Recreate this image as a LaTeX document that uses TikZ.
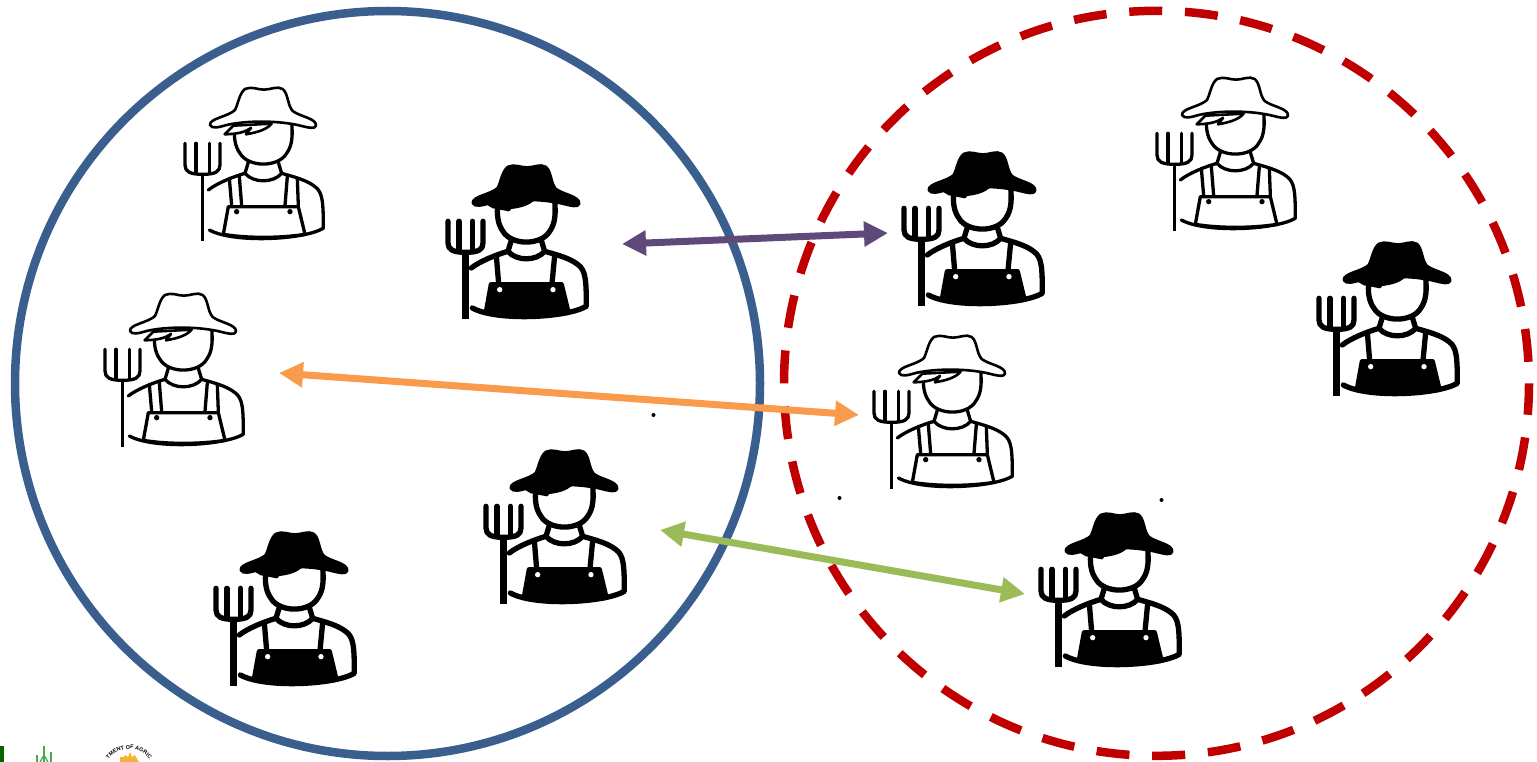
\documentclass[tikz,border=0pt]{standalone}
\usepackage{fontspec}
\setmainfont{Liberation Sans}
\usetikzlibrary{arrows.meta,decorations.text}
\definecolor{bluering}{HTML}{3A5F8F}
\definecolor{redring}{HTML}{C00000}
\definecolor{purplearrow}{HTML}{5F497A}
\definecolor{orangearrow}{HTML}{F99B4A}
\definecolor{greenarrow}{HTML}{9BBB59}
\definecolor{sealsun}{HTML}{F5B335}
\newcommand\fmTwoStraps{%
  \draw (178,310) -- (185,392);
  \draw (208,305) -- (215,392);
  \draw (352,305) -- (345,392);
  \draw (382,310) -- (385,392);
  \draw[fill=white,line width=2.6pt] (164,178) -- (190,152) -- (305,146) .. controls (290,164) and (262,172) .. (228,178) -- (243,159) .. controls (225,171) and (205,177) .. (164,178) -- cycle;
}
\newcommand\fmOneStrap{%
  \draw (190,308) -- (197,392);
  \draw (365,308) -- (357,392);
  \draw[fill=black,line width=2pt] (155,148) -- (180,163) -- (228,172) -- (243,150) -- (235,165) .. controls (262,162) and (285,155) .. (300,142) -- cycle;
}
\tikzset{
  ring/.style={line width=8.5pt,outer sep=0pt,inner sep=0pt},
  link/.style={line width=7pt,{Triangle[length=24pt,width=24pt]}-{Triangle[length=24pt,width=24pt]}},
  speck/.style={circle,fill=black,inner sep=0pt,minimum size=4pt},
  pics/whitefarmer/.style={code={\fmbody{3.3pt}{3.6pt}{2.6pt}{white}{white}{black}{\fmTwoStraps}}},
  pics/blackfarmer/.style={code={\fmbody{5.3pt}{7.5pt}{3pt}{black}{black}{white}{\fmOneStrap}}}
}
% #1 line width, #2 fork handle width, #3 hat line width, #4 hat fill, #5 bib fill, #6 button fill, #7 straps and hair
\newcommand\fmbody[7]{%
\begin{scope}[x=0.3333pt,y=-0.3333pt,line cap=round,line join=round,line width=#1,draw=black]
  % head
  \draw[fill=white] (195,150) .. controls (190,185) and (195,215) .. (210,235) .. controls (235,278) and (325,278) .. (350,235) .. controls (368,210) and (368,180) .. (365,140);
  % straps and hair
  #7
  % hat
  \draw[fill=#4,line width=#3] (195,105) .. controls (205,85) and (208,55) .. (225,42) .. controls (245,33) and (262,44) .. (282,44) .. controls (302,44) and (322,32) .. (338,42) .. controls (355,55) and (352,90) .. (368,108) .. controls (390,125) and (440,130) .. (438,152) .. controls (435,163) and (415,158) .. (395,153) .. controls (330,136) and (230,136) .. (170,150) .. controls (150,156) and (125,163) .. (120,150) .. controls (118,130) and (175,125) .. (195,105) -- cycle;
  % neck and collar
  \draw (235,262) -- (225,295) .. controls (250,325) and (310,325) .. (335,295) -- (325,262);
  % shoulders and lower edge
  \draw (115,345) .. controls (140,325) and (190,305) .. (225,295);
  \draw (335,295) .. controls (370,305) and (410,315) .. (435,335) .. controls (458,352) and (460,380) .. (460,460) .. controls (400,495) and (190,505) .. (118,465);
  % bib
  \draw[fill=#5] (175,395) -- (385,395) -- (405,478) .. controls (330,490) and (230,490) .. (160,478) -- cycle;
  % buttons
  \fill[#6] (200,410) circle[radius=8];
  \fill[#6] (360,410) circle[radius=8];
  % pitchfork
  \draw (45,205) -- (45,270) .. controls (45,290) and (60,298) .. (98,298) .. controls (136,298) and (150,290) .. (150,270) -- (150,205);
  \draw (78,205) -- (78,295);
  \draw (118,205) -- (118,295);
  \draw[line width=#2,line cap=butt] (98,298) -- (98,498);
\end{scope}}
\begin{document}
\begin{tikzpicture}[x=1pt,y=-1pt]
\useasboundingbox (0,0) rectangle (1537,762);
\clip (0,0) rectangle (1537,762);
\fill[white] (0,0) rectangle (1537,762);
% logos
\fill[green!40!black] (0,746) rectangle (4,762);
\begin{scope}[draw=green!50!black!70,line width=1.3pt]
  \draw (44,746) -- (44,762);
  \draw (37,755) -- (37,762);
  \draw (51,752) -- (51,762);
  \draw (40,762) -- (44,755) -- (48,762);
\end{scope}
\fill[sealsun] (120,757) -- (124,757) -- (125,755) -- (128,757) -- (130,752) -- (132,757) -- (135,755) -- (136,757) -- (139,762) -- (120,762) -- cycle;
\path[postaction={decorate,decoration={text along path,text align=center,text={|\fontsize{5.5pt}{6pt}\selectfont\bfseries|TMENT OF AGRIC}}}] (103,775) arc[start angle=180,end angle=0,radius=26pt];
% rings
\node[circle,draw=bluering,ring,minimum size=745pt] (left) at (387.5,383.5) {};
\node[circle,draw=redring,ring,dash pattern=on 33pt off 22.8pt,dash phase=34.3pt,minimum size=745pt] (right) at (1156.5,383.3) {};
% farmers
\pic at (170,75) {whitefarmer};
\pic at (90,281) {whitefarmer};
\pic at (859,323) {whitefarmer};
\pic at (1142,65) {whitefarmer};
\pic at (433,153) {blackfarmer};
\pic at (889,140) {blackfarmer};
\pic at (1304,230) {blackfarmer};
\pic at (471,438) {blackfarmer};
\pic at (201,520) {blackfarmer};
\pic at (1026,501) {blackfarmer};
% link ends
\coordinate (pa) at (622,244);
\coordinate (pb) at (888,233);
\coordinate (oa) at (279,373);
\coordinate (ob) at (859,415);
\coordinate (ga) at (660,530);
\coordinate (gb) at (1025,594);
\draw[link,purplearrow] (pa) -- (pb);
\draw[link,orangearrow] (oa) -- (ob);
\draw[link,greenarrow] (ga) -- (gb);
% specks
\node[speck] (s1) at (653.5,415) {};
\node[speck] (s2) at (839.5,498) {};
\node[speck] (s3) at (1161.5,500) {};
\end{tikzpicture}
\end{document}
